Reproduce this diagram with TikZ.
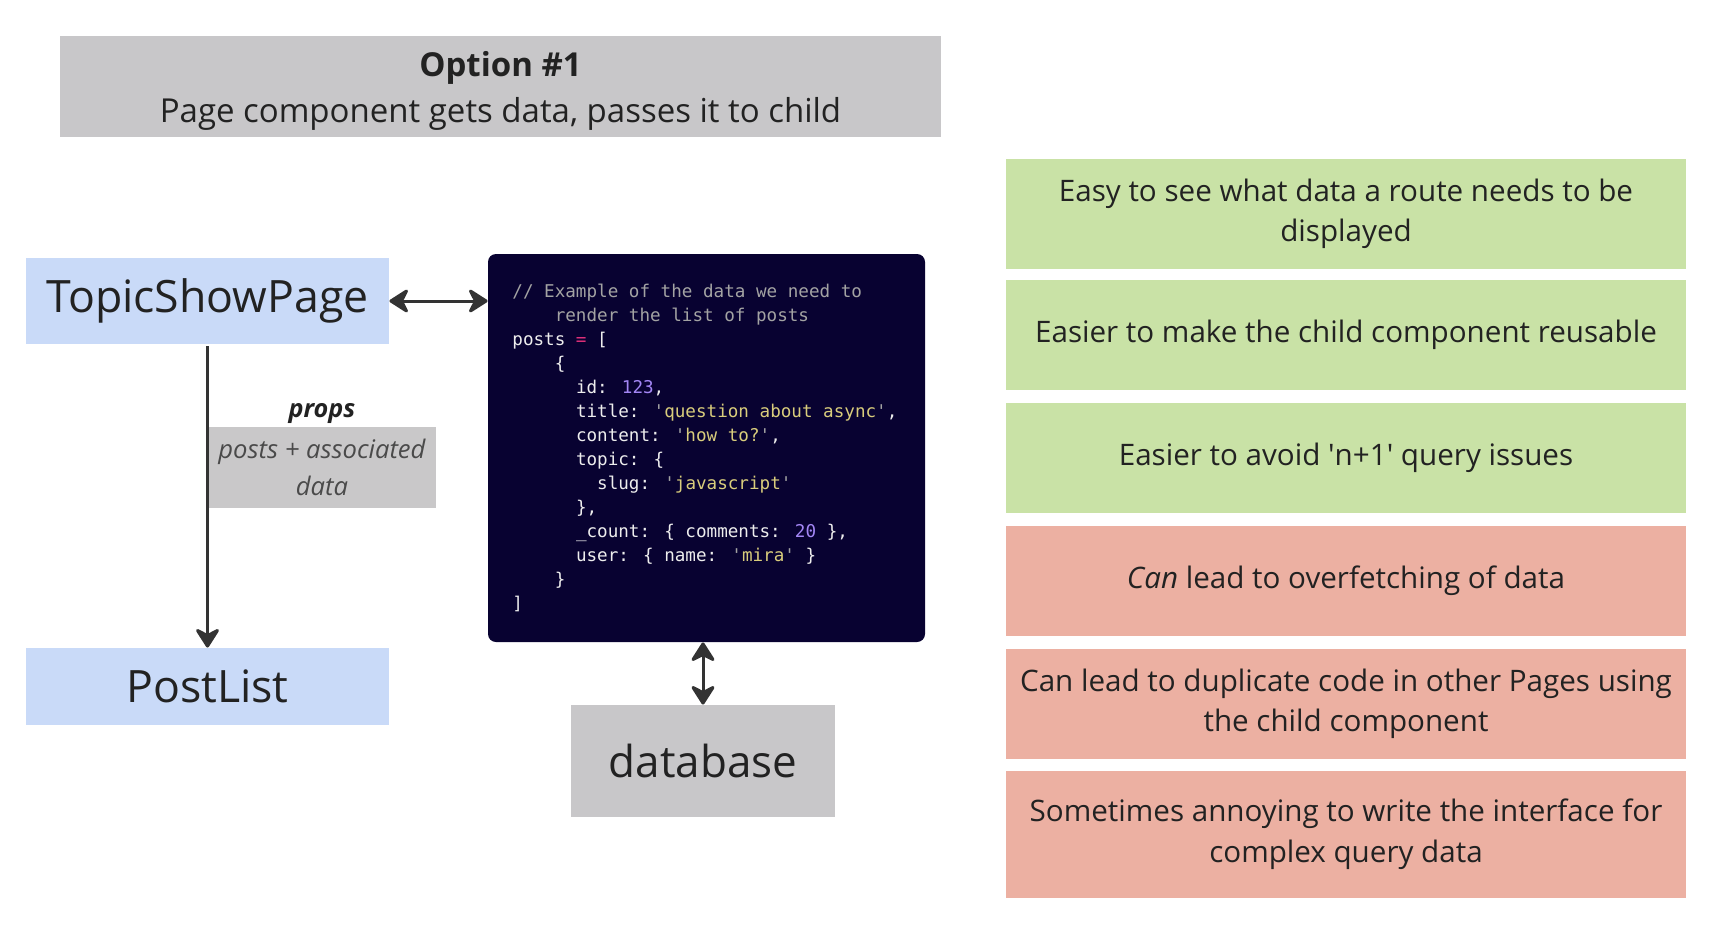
\documentclass[tikz,border=0pt]{standalone}
\usepackage{fontspec}
\setmainfont{Open Sans}[Ligatures=TeXOff]
\newfontfamily\codefont{DejaVu Sans Mono}[Ligatures=TeXOff]
\usetikzlibrary{arrows.meta}
\definecolor{boxgray}{HTML}{C8C7C9}
\definecolor{propgray}{HTML}{C9C8C9}
\definecolor{compblue}{HTML}{C9DAF8}
\definecolor{progreen}{HTML}{C9E2A6}
\definecolor{conred}{HTML}{ECB0A2}
\definecolor{txt}{HTML}{222222}
\definecolor{propstxt}{HTML}{4A4A4A}
\definecolor{arrowc}{HTML}{333333}
\definecolor{codebg}{HTML}{080231}
\definecolor{codewhite}{HTML}{EDEDED}
\definecolor{codecomment}{HTML}{A3A3A3}
\definecolor{codeop}{HTML}{E0307A}
\definecolor{codenum}{HTML}{A386F5}
\definecolor{codestr}{HTML}{D9CD7C}
\newcommand{\cstrq}[1]{\textcolor{codecomment}{\textquotesingle}\textcolor{codestr}{#1}\textcolor{codecomment}{\textquotesingle}}
\newcommand{\cnumv}[1]{\textcolor{codenum}{#1}}
\newcommand{\copv}[1]{\textcolor{codeop}{#1}}
\begin{document}
\begin{tikzpicture}[x=0.5pt,y=-0.5pt,
  box/.style={inner sep=0pt, align=center, text=txt},
  comp/.style={box, fill=compblue, minimum width=181.5pt, font=\fontsize{22.3pt}{26pt}\selectfont},
  side/.style={box, minimum width=340pt, minimum height=55pt, font=\fontsize{14.8pt}{20.3pt}\selectfont},
  pro/.style={side, fill=progreen},
  con/.style={side, fill=conred},
  codeline/.style={anchor=base west, inner sep=0pt, text=codewhite, font=\codefont\fontsize{8.8pt}{12pt}\selectfont},
  arr/.style={draw=arrowc, line width=1.5pt},
  tip/.tip={Stealth[length=11pt, width=14pt, inset=3.5pt, round]}
]
\useasboundingbox[fill=white] (0,0) rectangle (1714,926);

% title
\node[box, fill=boxgray, minimum width=440.5pt, minimum height=50.5pt] (title) at (500.5,86.5) {};
\node[box, font=\fontsize{16.5pt}{23pt}\selectfont] (titletext) at (500.5,91)
  {\textbf{Option \#1}\\Page component gets data, passes it to child};

% components
\node[comp, minimum height=43pt] (tsp) at (207.5,301) {TopicShowPage};
\node[comp, minimum height=38.5pt] (postlist) at (207.5,686.5) {PostList};

% props
\node[box, font=\fontsize{12.6pt}{15pt}\selectfont\bfseries\itshape] (propslbl) at (322,414) {props};
\node[box, fill=propgray, minimum width=114pt, minimum height=40.5pt, text=propstxt,
  font=\fontsize{12.8pt}{18.5pt}\selectfont\itshape] (propsbox) at (322,467.5)
  {posts + associated\\data};

% code box
\node[fill=codebg, rounded corners=4pt, minimum width=218.5pt, minimum height=194pt, inner sep=0pt] (code) at (706.5,448) {};
\node[codeline, text=codecomment] (l0) at (512,297) {// Example of the data we need to};
\node[codeline, text=codecomment] (l1) at (554.4,321) {render the list of posts};
\node[codeline] (l2) at (512,345) {posts \copv{=} [};
\node[codeline] (l3) at (554.4,369) {\{};
\node[codeline] (l4) at (575.6,393) {id: \cnumv{123},};
\node[codeline] (l5) at (575.6,417) {title: \cstrq{question about async},};
\node[codeline] (l6) at (575.6,441) {content: \cstrq{how to?},};
\node[codeline] (l7) at (575.6,465) {topic: \{};
\node[codeline] (l8) at (596.8,489) {slug: \cstrq{javascript}};
\node[codeline] (l9) at (575.6,513) {\},};
\node[codeline] (l10) at (575.6,537) {\_count: \{ comments: \cnumv{20} \},};
\node[codeline] (l11) at (575.6,561) {user: \{ name: \cstrq{mira} \}};
\node[codeline] (l12) at (554.4,585) {\}};
\node[codeline] (l13) at (512,609) {]};

% database
\node[box, fill=boxgray, minimum width=132pt, minimum height=56pt,
  font=\fontsize{22pt}{26pt}\selectfont] (db) at (703,761) {database};

% right column
\node[pro] (p1) at (1346,214) {Easy to see what data a route needs to be\\displayed};
\node[pro] (p2) at (1346,335) {Easier to make the child component reusable};
\node[pro] (p3) at (1346,458) {Easier to avoid \textquotesingle n+1\textquotesingle\ query issues};
\node[con] (c1) at (1346,581) {\textit{Can} lead to overfetching of data};
\node[con] (c2) at (1346,704) {Can lead to duplicate code in other Pages using\\the child component};
\node[con, minimum height=63.5pt] (c3) at (1346,834) {Sometimes annoying to write the interface for\\complex query data};

% connectors
\draw[arr, -tip, shorten <=1pt] (tsp.south) -- (postlist.north);
\draw[arr, tip-tip] (tsp.east) -- (tsp.east -| code.west);
\draw[arr, tip-tip] (db.north) -- (db.north |- code.south);
\end{tikzpicture}
\end{document}
